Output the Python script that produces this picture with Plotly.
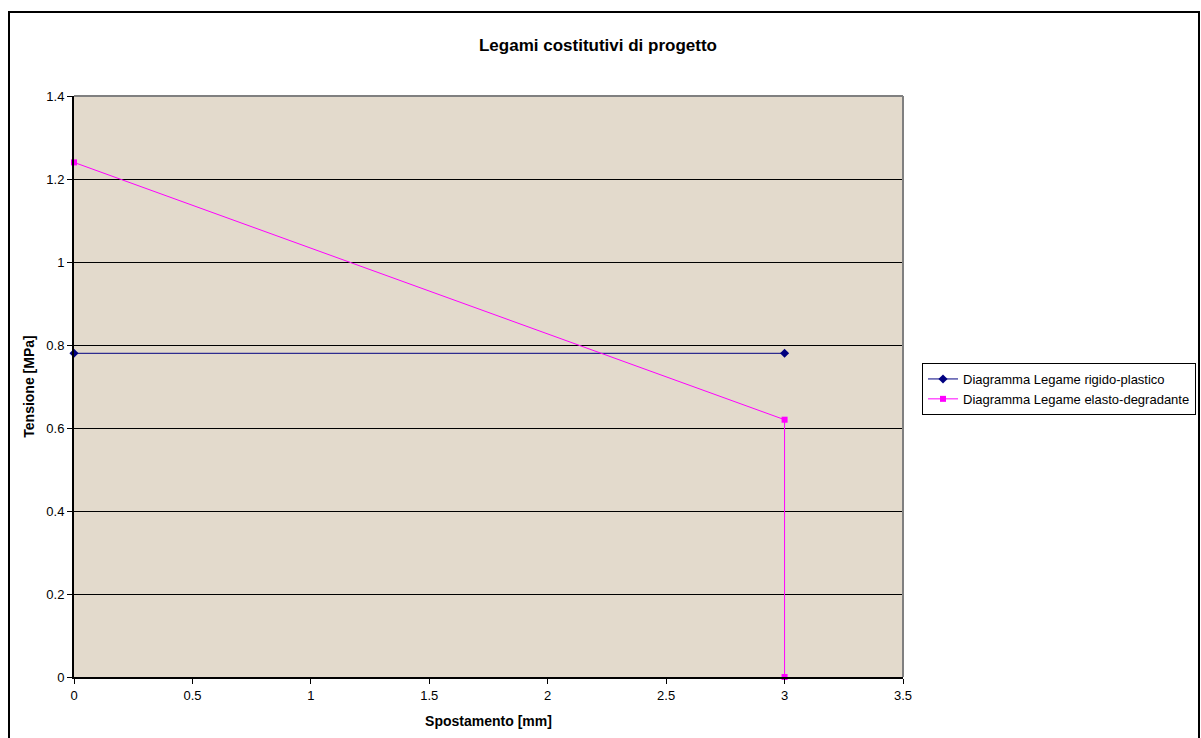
import plotly.graph_objects as go

# dati dei legami costitutivi
rigido_x = [0, 3]
rigido_y = [0.78, 0.78]
elasto_x = [0, 3, 3]
elasto_y = [1.24, 0.62, 0]

x_ticks = [0, 0.5, 1, 1.5, 2, 2.5, 3, 3.5]
y_ticks = [0, 0.2, 0.4, 0.6, 0.8, 1, 1.2, 1.4]
x_labels = ["0", "0.5", "1", "1.5", "2", "2.5", "3", "3.5"]
y_labels = ["0", "0.2", "0.4", "0.6", "0.8", "1", "1.2", "1.4"]

W, H = 1201, 738
L, R, T, B = 74, 298, 96, 61
pw, ph = W - L - R, H - T - B


def px(x):
    return (x - L) / pw


def py(y):
    return (H - B - y) / ph


fig = go.Figure()
fig.add_trace(go.Scatter(
    x=rigido_x, y=rigido_y, mode="lines+markers",
    name="Diagramma Legame rigido-plastico",
    line=dict(color="#000080", width=1),
    marker=dict(symbol="diamond", size=7, color="#000080"),
    cliponaxis=False,
))
fig.add_trace(go.Scatter(
    x=elasto_x, y=elasto_y, mode="lines+markers",
    name="Diagramma Legame elasto-degradante",
    line=dict(color="#FF00FF", width=1),
    marker=dict(symbol="square", size=6, color="#FF00FF"),
    cliponaxis=False,
))

font = "Liberation Sans, Arial, sans-serif"
fig.update_layout(
    width=W, height=H,
    margin=dict(l=L, r=R, t=T, b=B, autoexpand=False),
    paper_bgcolor="white",
    plot_bgcolor="#E3DACC",
    font=dict(family=font, size=13, color="black"),
    title=dict(
        text="<b>Legami costitutivi di progetto</b>",
        x=598 / W, xref="container", xanchor="center",
        y=1 - 45 / H, yanchor="middle",
        font=dict(size=17),
    ),
    showlegend=True,
    legend=dict(
        x=px(922), y=py(363), xanchor="left", yanchor="top",
        bordercolor="black", borderwidth=1, bgcolor="white",
        font=dict(size=13), tracegroupgap=0,
    ),
    shapes=[
        dict(type="line", xref="paper", yref="paper", x0=0, x1=1, y0=1, y1=1,
             line=dict(color="#808080", width=2)),
        dict(type="line", xref="paper", yref="paper", x0=1, x1=1, y0=0, y1=1,
             line=dict(color="#808080", width=2)),
        dict(type="rect", xref="paper", yref="paper",
             x0=px(9), x1=px(1199), y0=py(760), y1=py(12),
             line=dict(color="black", width=2), layer="above"),
    ],
)
fig.update_xaxes(
    range=[0, 3.5], tickvals=x_ticks, ticktext=x_labels,
    showgrid=False, zeroline=False,
    showline=True, linecolor="black", linewidth=2,
    ticks="outside", ticklen=5, tickcolor="black",
    title=dict(text="<b>Spostamento [mm]</b>", font=dict(size=14), standoff=15),
)
fig.update_yaxes(
    range=[0, 1.4], tickvals=y_ticks, ticktext=y_labels,
    showgrid=True, gridcolor="black", gridwidth=1, zeroline=False,
    showline=True, linecolor="black", linewidth=2,
    ticks="outside", ticklen=5, tickcolor="black",
    title=dict(text="<b>Tensione [MPa]</b>", font=dict(size=14), standoff=8),
)

fig.write_html(
    "out.html",
    config={"displayModeBar": False, "responsive": False},
    post_script="document.body.style.margin='0';"
                "document.documentElement.style.overflow='hidden';",
)
